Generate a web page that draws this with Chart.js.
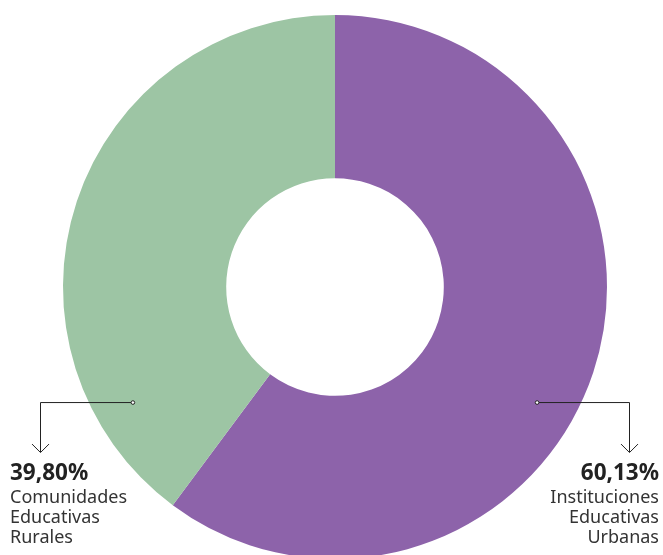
<!DOCTYPE html>
<html>
<head>
<meta charset="utf-8">
<script src="https://cdn.jsdelivr.net/npm/chart.js@4.4.0/dist/chart.umd.min.js"></script>
<style>
  html, body { margin: 0; padding: 0; background: #fff; overflow: hidden; }
  #wrap { position: relative; width: 663px; height: 555px; overflow: hidden; }
  #c { position: absolute; left: 0; top: 0; }
  .lbl { position: absolute; font-family: "Noto Sans", sans-serif; color: #333; font-size: 18px; line-height: 20px; }
  .lbl b { display: block; font-size: 22.5px; line-height: 29px; color: #222; }
</style>
</head>
<body>
<div id="wrap">
  <canvas id="c" width="663" height="560"></canvas>
  <div class="lbl" id="lblL" style="left:10px; top:457px; text-align:left;"></div>
  <div class="lbl" id="lblR" style="right:4px; top:457px; text-align:right;"></div>
</div>
<script>
const labels = ['Instituciones Educativas Urbanas', 'Comunidades Educativas Rurales'];
const values = [60.13, 39.80];
const colors = ['#8d63aa', '#9dc5a4'];

function fmt(v) { return v.toFixed(2).replace('.', ',') + '%'; }

document.getElementById('lblR').innerHTML = '<b>' + fmt(values[0]) + '</b>' + labels[0].split(' ').join('<br>');
document.getElementById('lblL').innerHTML = '<b>' + fmt(values[1]) + '</b>' + labels[1].split(' ').join('<br>');

// lineas guia desde cada segmento hasta su etiqueta
const leaders = {
  id: 'leaders',
  afterDraw(chart) {
    const ctx = chart.ctx;
    const arc = chart.getDatasetMeta(0).data[0];
    const cx = arc.x, cy = arc.y, r = arc.outerRadius;
    const dy = cy + r * 0.423, dx = r * 0.743;
    const ends = [[cx + dx, 629], [cx - dx, 40]];
    ctx.save();
    ctx.strokeStyle = '#222';
    ctx.lineWidth = 1;
    ends.forEach(([x0, x1]) => {
      ctx.beginPath();
      ctx.moveTo(x0, dy + 0.5);
      ctx.lineTo(x1 + 0.5, dy + 0.5);
      ctx.lineTo(x1 + 0.5, dy + 50);
      ctx.stroke();
      ctx.beginPath();
      ctx.moveTo(x1 - 8, dy + 42);
      ctx.lineTo(x1 + 0.5, dy + 50.5);
      ctx.lineTo(x1 + 9, dy + 42);
      ctx.stroke();
      ctx.beginPath();
      ctx.arc(x0, dy + 0.5, 1.8, 0, Math.PI * 2);
      ctx.fillStyle = '#fff';
      ctx.fill();
      ctx.stroke();
    });
    ctx.restore();
  }
};

new Chart(document.getElementById('c').getContext('2d'), {
  type: 'doughnut',
  data: {
    labels: labels,
    datasets: [{
      data: values,
      backgroundColor: colors,
      borderWidth: 0
    }]
  },
  options: {
    responsive: false,
    animation: false,
    cutout: '40%',
    layout: { padding: { top: 15, bottom: 1, left: 7, right: 0 } },
    plugins: {
      legend: { display: false },
      tooltip: { enabled: false }
    }
  },
  plugins: [leaders]
});
</script>
</body>
</html>
